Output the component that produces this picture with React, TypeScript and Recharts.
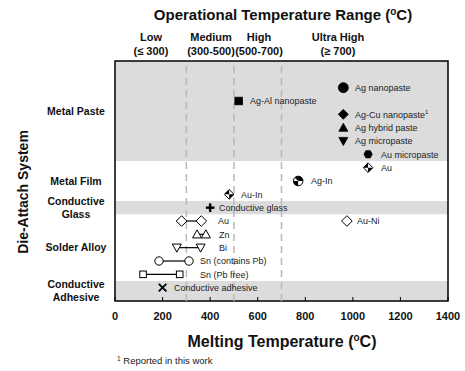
import React from 'react';
import { ScatterChart, Scatter, XAxis, YAxis, ReferenceArea, ReferenceLine } from 'recharts';

const FONT = '"Liberation Sans", Arial, Helvetica, sans-serif';

// melting temperatures (°C)
const pasteNames = ['Ag nanopaste', 'Ag-Al nanopaste', 'Ag-Cu nanopaste', 'Ag hybrid paste', 'Ag micropaste', 'Au micropaste'];
const pasteTemps = [960, 520, 960, 960, 960, 1064];
const filmNames = ['Au', 'Ag-In', 'Au-In'];
const filmTemps = [1064, 770, 480];
const glassNames = ['Conductive glass'];
const glassTemps = [400];
const solderNames = ['Au', 'Zn', 'Bi', 'Sn (contains Pb)', 'Sn (Pb free)'];
const solderLow = [280, 345, 260, 185, 118];
const solderHigh = [363, 382, 360, 311, 272];
const auNiName = 'Au-Ni';
const auNiTemp = 975;
const adhesiveNames = ['Conductive adhesive'];
const adhesiveTemps = [200];

const systems = ['Metal Paste', 'Metal Film', 'Conductive Glass', 'Solder Alloy', 'Conductive Adhesive'];
const classNames = ['Low', 'Medium', 'High', 'Ultra High'];
const classRanges = ['(\u2264 300)', '(300-500)', '(500-700)', '(\u2265 700)'];
const classBounds = [300, 500, 700];
const xTicks = [0, 200, 400, 600, 800, 1000, 1200, 1400];

// marker looks and label nudges (px from the right-most marker)
const pasteMarks = ['circle', 'square', 'diamond', 'triangle', 'triangleDown', 'hexagon'];
const pasteDx = [12, 11, 12, 12, 12, 13];
const filmMarks = ['checkDiamond', 'checkCircle', 'checkDiamond'];
const filmDx = [13, 13, 12];
const solderMarks = ['diamond', 'triangle', 'triangleDown', 'circle', 'square'];
const solderDx = [17, 13, 18, 11, 20];

// rows (top to bottom)
const pasteRows = pasteNames.map((_, i) => i);
const filmRows = filmNames.map((_, i) => pasteNames.length + i);
const glassRow = pasteNames.length + filmNames.length;
const solderRows = solderNames.map((_, i) => glassRow + 1 + i);
const adhesiveRow = glassRow + 1 + solderNames.length;
const Y_MIN = -2;
const Y_MAX = adhesiveRow + 1;

const bands = [
  [Y_MIN, filmRows[0] - 0.5],
  [glassRow - 0.5, glassRow + 0.5],
  [adhesiveRow - 0.5, Y_MAX],
];
const groupSpans = [
  [Y_MIN, filmRows[0] - 0.5],
  [filmRows[0] - 0.5, glassRow - 0.5],
  [glassRow - 0.5, glassRow + 0.5],
  [glassRow + 0.5, adhesiveRow - 0.5],
  [adhesiveRow - 0.5, Y_MAX],
];
const systemTicks = groupSpans.map(([a, b]) => (a + b) / 2);

const pasteData = pasteNames.map((n, i) => ({
  t: pasteTemps[i], row: pasteRows[i], mark: pasteMarks[i], label: n, dx: pasteDx[i], sup: n === 'Ag-Cu nanopaste',
}));
const filmData = filmNames.map((n, i) => ({ t: filmTemps[i], row: filmRows[i], mark: filmMarks[i], label: n, dx: filmDx[i] }));
const glassData = glassNames.map((n, i) => ({ t: glassTemps[i], row: glassRow, mark: 'plus', label: n, dx: 9 }));
const solderData = solderNames.map((n, i) => [
  { t: solderLow[i], row: solderRows[i], mark: solderMarks[i], open: true },
  { t: solderHigh[i], row: solderRows[i], mark: solderMarks[i], open: true, label: n, dx: solderDx[i] },
]);
const auNiData = [{ t: auNiTemp, row: solderRows[0], mark: 'diamond', open: true, label: auNiName, dx: 10 }];
const adhesiveData = adhesiveNames.map((n, i) => ({ t: adhesiveTemps[i], row: adhesiveRow, mark: 'cross', label: n, dx: 11 }));

function Marker(props: any) {
  const { cx, cy, payload } = props;
  if (cx == null || cy == null) return null;
  const p = payload || {};
  const fill = p.open ? '#fff' : '#000';
  const sw = p.open ? 1 : 0.8;
  let shape: React.ReactNode = null;
  switch (p.mark) {
    case 'circle': {
      const r = p.open ? 4.2 : 5;
      shape = <circle cx={cx} cy={cy} r={r} fill={fill} stroke="#000" strokeWidth={sw} />;
      break;
    }
    case 'square': {
      const s = p.open ? 3.3 : 3.8;
      shape = <rect x={cx - s} y={cy - s} width={2 * s} height={2 * s} fill={fill} stroke="#000" strokeWidth={sw} />;
      break;
    }
    case 'diamond': {
      const s = p.open ? 5.3 : 5;
      shape = <polygon points={`${cx},${cy - s} ${cx + s},${cy} ${cx},${cy + s} ${cx - s},${cy}`} fill={fill} stroke="#000" strokeWidth={sw} />;
      break;
    }
    case 'triangle': {
      const s = 4.5;
      shape = <polygon points={`${cx},${cy - s} ${cx + s},${cy + s * 0.8} ${cx - s},${cy + s * 0.8}`} fill={fill} stroke="#000" strokeWidth={sw} />;
      break;
    }
    case 'triangleDown': {
      const s = 4.5;
      shape = <polygon points={`${cx},${cy + s} ${cx + s},${cy - s * 0.8} ${cx - s},${cy - s * 0.8}`} fill={fill} stroke="#000" strokeWidth={sw} />;
      break;
    }
    case 'hexagon': {
      const r = 4.6;
      const pts = [0, 60, 120, 180, 240, 300]
        .map((a) => `${cx + r * Math.cos((a * Math.PI) / 180)},${cy + r * Math.sin((a * Math.PI) / 180)}`)
        .join(' ');
      shape = <polygon points={pts} fill="#000" />;
      break;
    }
    case 'checkDiamond': {
      const s = 4.8;
      shape = (
        <g>
          <polygon points={`${cx},${cy - s} ${cx + s},${cy} ${cx},${cy + s} ${cx - s},${cy}`} fill="#fff" stroke="#000" strokeWidth={1} />
          <polygon points={`${cx},${cy - s} ${cx},${cy} ${cx - s},${cy}`} fill="#000" />
          <polygon points={`${cx},${cy + s} ${cx},${cy} ${cx + s},${cy}`} fill="#000" />
        </g>
      );
      break;
    }
    case 'checkCircle': {
      const r = 4.8;
      shape = (
        <g>
          <circle cx={cx} cy={cy} r={r} fill="#fff" stroke="#000" strokeWidth={1} />
          <path d={`M${cx},${cy} L${cx + r},${cy} A${r},${r} 0 0 0 ${cx},${cy - r} Z`} fill="#000" />
          <path d={`M${cx},${cy} L${cx - r},${cy} A${r},${r} 0 0 0 ${cx},${cy + r} Z`} fill="#000" />
          <path d={`M${cx},${cy} L${cx},${cy - r} A${r},${r} 0 0 0 ${cx - r * 0.7},${cy - r * 0.7} Z`} fill="#000" />
        </g>
      );
      break;
    }
    case 'plus': {
      const s = 4.3;
      shape = (
        <g stroke="#000" strokeWidth={2.4}>
          <line x1={cx - s} y1={cy} x2={cx + s} y2={cy} />
          <line x1={cx} y1={cy - s} x2={cx} y2={cy + s} />
        </g>
      );
      break;
    }
    case 'cross': {
      const s = 3.8;
      shape = (
        <g stroke="#000" strokeWidth={1.8}>
          <line x1={cx - s} y1={cy - s} x2={cx + s} y2={cy + s} />
          <line x1={cx - s} y1={cy + s} x2={cx + s} y2={cy - s} />
        </g>
      );
      break;
    }
  }
  return (
    <g>
      {shape}
      {p.label ? (
        <text
          x={Math.round(cx + p.dx)}
          y={Math.round(cy + 3.3)}
          fontSize={9}
          fontFamily={FONT}
          fill="#222"
          stroke="none"
          style={{ fill: '#222' }}
        >
          {p.label}
          {p.sup ? <tspan dy={-4} fontSize={6}>1</tspan> : null}
        </text>
      ) : null}
    </g>
  );
}

function SystemTick(props: any) {
  const { y, payload } = props;
  const idx = systemTicks.indexOf(payload.value);
  const label = systems[idx] || '';
  const words = label.split(' ');
  const lines = label === 'Metal Paste' || label === 'Metal Film' || label === 'Solder Alloy' ? [label] : words;
  const lh = 13;
  const y0 = y - ((lines.length - 1) * lh) / 2 + 3.8;
  return (
    <text x={76} y={y0} textAnchor="middle" fontSize={10.5} fontWeight="bold" fontFamily={FONT} fill="#111">
      {lines.map((l, i) => (
        <tspan key={i} x={76} y={y0 + i * lh}>
          {l}
        </tspan>
      ))}
    </text>
  );
}

const titleStyle: React.CSSProperties = {
  position: 'absolute',
  fontFamily: FONT,
  fontWeight: 'bold',
  color: '#111',
  textAlign: 'center',
  whiteSpace: 'nowrap',
};

const headerCenters = [151, 211, 259, 338];

export default function App() {
  return (
    <div style={{ position: 'absolute', left: 0, top: 0, width: 465, height: 371, background: '#fff' }}>
      <ScatterChart width={465} height={371} margin={{ top: 61, right: 17, bottom: 30, left: 5 }}>
        <XAxis
          type="number"
          dataKey="t"
          domain={[0, 1400]}
          ticks={xTicks}
          interval={0}
          height={40}
          axisLine={false}
          tickSize={-4}
          tickMargin={15}
          tickLine={{ stroke: '#000', strokeWidth: 1 }}
          tick={{ fontSize: 11, fontWeight: 'bold', fontFamily: FONT, fill: '#111' }}
        />
        <YAxis
          type="number"
          dataKey="row"
          domain={[Y_MIN, Y_MAX]}
          reversed
          ticks={systemTicks}
          interval={0}
          width={110}
          axisLine={false}
          tickLine={false}
          tick={<SystemTick />}
        />
        {bands.map(([a, b], i) => (
          <ReferenceArea key={i} y1={a} y2={b} x1={0} x2={1400} fill="#dcdcdc" fillOpacity={1} stroke="none" />
        ))}
        {classBounds.map((v) => (
          <ReferenceLine key={v} x={v} stroke="#b8b8b8" strokeWidth={1.5} strokeDasharray="7 5" />
        ))}
        <ReferenceArea x1={0} x2={1400} y1={Y_MIN} y2={Y_MAX} fill="none" stroke="#000" strokeWidth={1.5} />
        <Scatter data={pasteData} shape={<Marker />} isAnimationActive={false} />
        <Scatter data={filmData} shape={<Marker />} isAnimationActive={false} />
        <Scatter data={glassData} shape={<Marker />} isAnimationActive={false} />
        {solderData.map((d, i) => (
          <Scatter key={i} data={d} line={{ stroke: '#000', strokeWidth: 1.2 }} shape={<Marker />} isAnimationActive={false} />
        ))}
        <Scatter data={auNiData} shape={<Marker />} isAnimationActive={false} />
        <Scatter data={adhesiveData} shape={<Marker />} isAnimationActive={false} />
      </ScatterChart>

      <div style={{ ...titleStyle, left: 83, width: 400, top: 5, fontSize: 15, lineHeight: '19px' }}>
        Operational Temperature Range (<span style={{ fontSize: 10, position: 'relative', top: -5 }}>o</span>C)
      </div>
      {classNames.map((n, i) => (
        <div key={n} style={{ ...titleStyle, left: headerCenters[i] - 40, width: 80, top: 30, fontSize: 11, lineHeight: '14px' }}>
          {n}
          <br />
          {classRanges[i]}
        </div>
      ))}
      <div
        style={{
          ...titleStyle,
          left: 23 - 100,
          top: 192 - 9,
          width: 200,
          fontSize: 14,
          lineHeight: '18px',
          transform: 'rotate(-90deg)',
        }}
      >
        Die-Attach System
      </div>
      <div style={{ ...titleStyle, left: 82, width: 400, top: 332, fontSize: 16, lineHeight: '20px' }}>
        Melting Temperature (<span style={{ fontSize: 10, position: 'relative', top: -6 }}>o</span>C)
      </div>
      <div style={{ position: 'absolute', left: 117, top: 355, fontFamily: FONT, fontSize: 9.5, color: '#222', whiteSpace: 'nowrap' }}>
        <span style={{ fontSize: 6.5, position: 'relative', top: -3 }}>1</span> Reported in this work
      </div>
    </div>
  );
}
